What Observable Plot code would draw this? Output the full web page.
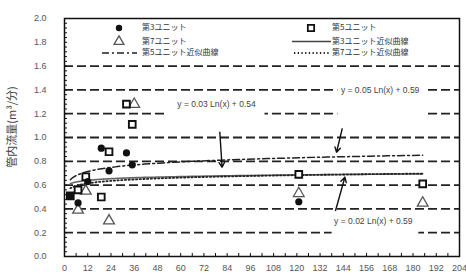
<!DOCTYPE html>
<html><head><meta charset="utf-8">
<script src="https://cdn.jsdelivr.net/npm/d3@7"></script>
<script src="https://cdn.jsdelivr.net/npm/@observablehq/plot@0.6"></script>
<style>
body{margin:0;background:#fff}
#chart{position:relative;width:466px;height:277px}
svg{font-family:"Liberation Sans",Arial,sans-serif}
</style>
</head><body><div id="chart"></div>
<script>
// ---- data ----
const unit3X = [3, 7, 12, 19, 23, 32, 35, 121];
const unit3Y = [0.51, 0.45, 0.63, 0.91, 0.72, 0.87, 0.77, 0.46];
const unit5X = [3, 7, 11, 19, 23, 32, 35, 121, 185];
const unit5Y = [0.51, 0.56, 0.67, 0.50, 0.88, 1.28, 1.11, 0.69, 0.61];
const unit7X = [7, 11, 23, 36, 121, 185];
const unit7Y = [0.39, 0.55, 0.30, 1.28, 0.53, 0.45];
const seriesNames = ["第3ユニット", "第5ユニット", "第7ユニット"];
const fitNames = ["第3ユニット近似曲線", "第5ユニット近似曲線", "第7ユニット近似曲線"];
const fitA = [0.02, 0.05, 0.03];
const fitB = [0.59, 0.59, 0.54];
const fitFrom = 3, fitTo = 185;
const eqLabels = ["y = 0.03 Ln(x) + 0.54", "y = 0.05 Ln(x) + 0.59", "y = 0.02 Ln(x) + 0.59"];
const eqX = [78.5, 163, 159.5];
const eqY = [1.277, 1.395, 0.30];
const arrowX1 = [80.2, 143.4, 140];
const arrowY1 = [1.045, 1.073, 0.387];
const arrowX2 = [81.4, 140.5, 144.8];
const arrowY2 = [0.75, 0.876, 0.666];
const yTicks = [0, 0.2, 0.4, 0.6, 0.8, 1.0, 1.2, 1.4, 1.6, 1.8, 2.0];
const xTicks = [0, 12, 24, 36, 48, 60, 72, 84, 96, 108, 120, 132, 144, 156, 168, 180, 192, 204];
const gridY = [0.2, 0.4, 0.6, 0.8, 1.0, 1.2, 1.4, 1.6];
const yTitle = "管内流量(m³/分)";

// ---- build tables ----
const pts3 = unit3X.map((x, i) => ({x, y: unit3Y[i]}));
const pts5 = unit5X.map((x, i) => ({x, y: unit5Y[i]}));
const pts7 = unit7X.map((x, i) => ({x, y: unit7Y[i]}));
const curve = k => d3.range(0, 81).map(i => {
  const x = fitFrom * Math.pow(fitTo / fitFrom, i / 80);
  return {x, y: fitA[k] * Math.log(x) + fitB[k]};
});
const eqs = eqLabels.map((t, i) => ({t, x: eqX[i], y: eqY[i]}));
const arrows = arrowX1.map((x1, i) => ({x1, y1: arrowY1[i], x2: arrowX2[i], y2: arrowY2[i]}));

const JP = "'Noto Sans CJK JP','Noto Sans',sans-serif";

const chart = Plot.plot({
  width: 466, height: 277,
  marginLeft: 64, marginRight: 7, marginTop: 18, marginBottom: 21,
  x: {domain: [0, 204]},
  y: {domain: [0, 2]},
  marks: [
    Plot.ruleY(gridY, {stroke: "#222", strokeWidth: 1.8, strokeDasharray: "9,4"}),
    Plot.text(eqs, {x: "x", y: "y", text: "t", fontSize: 8.5, fill: "#444"}),
    Plot.line(curve(0), {x: "x", y: "y", stroke: "#666", strokeWidth: 1.6}),
    Plot.line(curve(1), {x: "x", y: "y", stroke: "#222", strokeWidth: 1.5, strokeDasharray: "7,3,2,3"}),
    Plot.line(curve(2), {x: "x", y: "y", stroke: "#222", strokeWidth: 1.8, strokeDasharray: "1.3,2.4"}),
    Plot.dot(pts7, {x: "x", y: "y", symbol: "triangle", r: 4, stroke: "#555", strokeWidth: 1.3, fill: "white"}),
    Plot.dot(pts5, {x: "x", y: "y", symbol: "square", r: 3.8, stroke: "#111", strokeWidth: 1.9, fill: "white"}),
    Plot.dot(pts3, {x: "x", y: "y", symbol: "circle", r: 3.6, fill: "#111"}),
    Plot.arrow(arrows, {x1: "x1", y1: "y1", x2: "x2", y2: "y2", stroke: "#111", strokeWidth: 1.4, headLength: 6}),
    Plot.axisY(d3.range(0, 51).map(i => i * 0.04), {tickSize: -3, tickFormat: () => "", stroke: "#111", label: null}),
    Plot.axisY(yTicks, {tickSize: 0, tickPadding: 18, tickFormat: d3.format(".1f"), fontSize: 9, fill: "#555", label: null}),
    Plot.axisX(d3.range(0, 205, 6), {tickSize: -3, tickFormat: () => "", stroke: "#111", label: null}),
    Plot.axisX(xTicks, {tickSize: 0, tickPadding: 8, fontSize: 9, fill: "#555", label: null}),
    Plot.frame({stroke: "#111", strokeWidth: 1.5})
  ]
});
document.getElementById("chart").appendChild(chart);

// white boxes behind equation labels (hide gridlines like the original text boxes)
const svg = d3.select(chart);
const sbox = chart.getBoundingClientRect();
const pads = [[3, 8, 8, 10], [4, 6, 22, 4], [3, 5, 10, 3]]; // top,right,bottom,left
svg.selectAll("text").filter(function() { return this.textContent.startsWith("y = "); }).each(function() {
  const i = eqLabels.indexOf(this.textContent);
  const b = this.getBoundingClientRect();
  const p = pads[i] || [2, 2, 2, 2];
  const r = document.createElementNS("http://www.w3.org/2000/svg", "rect");
  r.setAttribute("x", b.left - sbox.left - p[3]);
  r.setAttribute("y", b.top - sbox.top - p[0]);
  r.setAttribute("width", b.width + p[1] + p[3]);
  r.setAttribute("height", b.height + p[0] + p[2]);
  r.setAttribute("fill", "white");
  this.parentNode.insertBefore(r, this.parentNode.firstChild);
});

// y-axis title
svg.append("text")
  .attr("transform", "translate(13,127) rotate(-90)")
  .attr("text-anchor", "middle").attr("dominant-baseline", "middle")
  .attr("font-family", JP).attr("font-size", 11).attr("fill", "#444")
  .text(yTitle);

// legend (inside plot area, top)
const lg = svg.append("g").attr("font-family", JP).attr("font-size", 8).attr("fill", "#333").attr("text-anchor", "start");
const rows = [28, 41.5, 53];
const cols = [{m: 119, t: 142}, {m: 311, t: 332}];
// row 1
lg.append("circle").attr("cx", cols[0].m).attr("cy", rows[0]).attr("r", 3.2).attr("fill", "#111");
lg.append("path").attr("d", d3.symbol(d3.symbolSquare, 40)()).attr("transform", `translate(${cols[1].m},${rows[0]})`)
  .attr("fill", "white").attr("stroke", "#111").attr("stroke-width", 1.8);
// row 2
lg.append("path").attr("d", d3.symbol(d3.symbolTriangle, 42)()).attr("transform", `translate(${cols[0].m},${rows[1]})`)
  .attr("fill", "white").attr("stroke", "#555").attr("stroke-width", 1.3);
lg.append("line").attr("x1", 292).attr("x2", 331).attr("y1", rows[1]).attr("y2", rows[1]).attr("stroke", "#444").attr("stroke-width", 1.6);
// row 3
lg.append("line").attr("x1", 102).attr("x2", 137).attr("y1", rows[2]).attr("y2", rows[2]).attr("stroke", "#222").attr("stroke-width", 1.5).attr("stroke-dasharray", "7,3,2,3");
lg.append("line").attr("x1", 294).attr("x2", 331).attr("y1", rows[2]).attr("y2", rows[2]).attr("stroke", "#222").attr("stroke-width", 1.8).attr("stroke-dasharray", "1.3,2.4");
const labels = [[0, 0, seriesNames[0]], [1, 0, seriesNames[1]], [0, 1, seriesNames[2]], [1, 1, fitNames[0]], [0, 2, fitNames[1]], [1, 2, fitNames[2]]];
labels.forEach(([c, r, t]) => {
  lg.append("text").attr("x", cols[c].t).attr("y", rows[r]).attr("dominant-baseline", "middle").attr("text-anchor", "start").text(t);
});
</script>
</body></html>
